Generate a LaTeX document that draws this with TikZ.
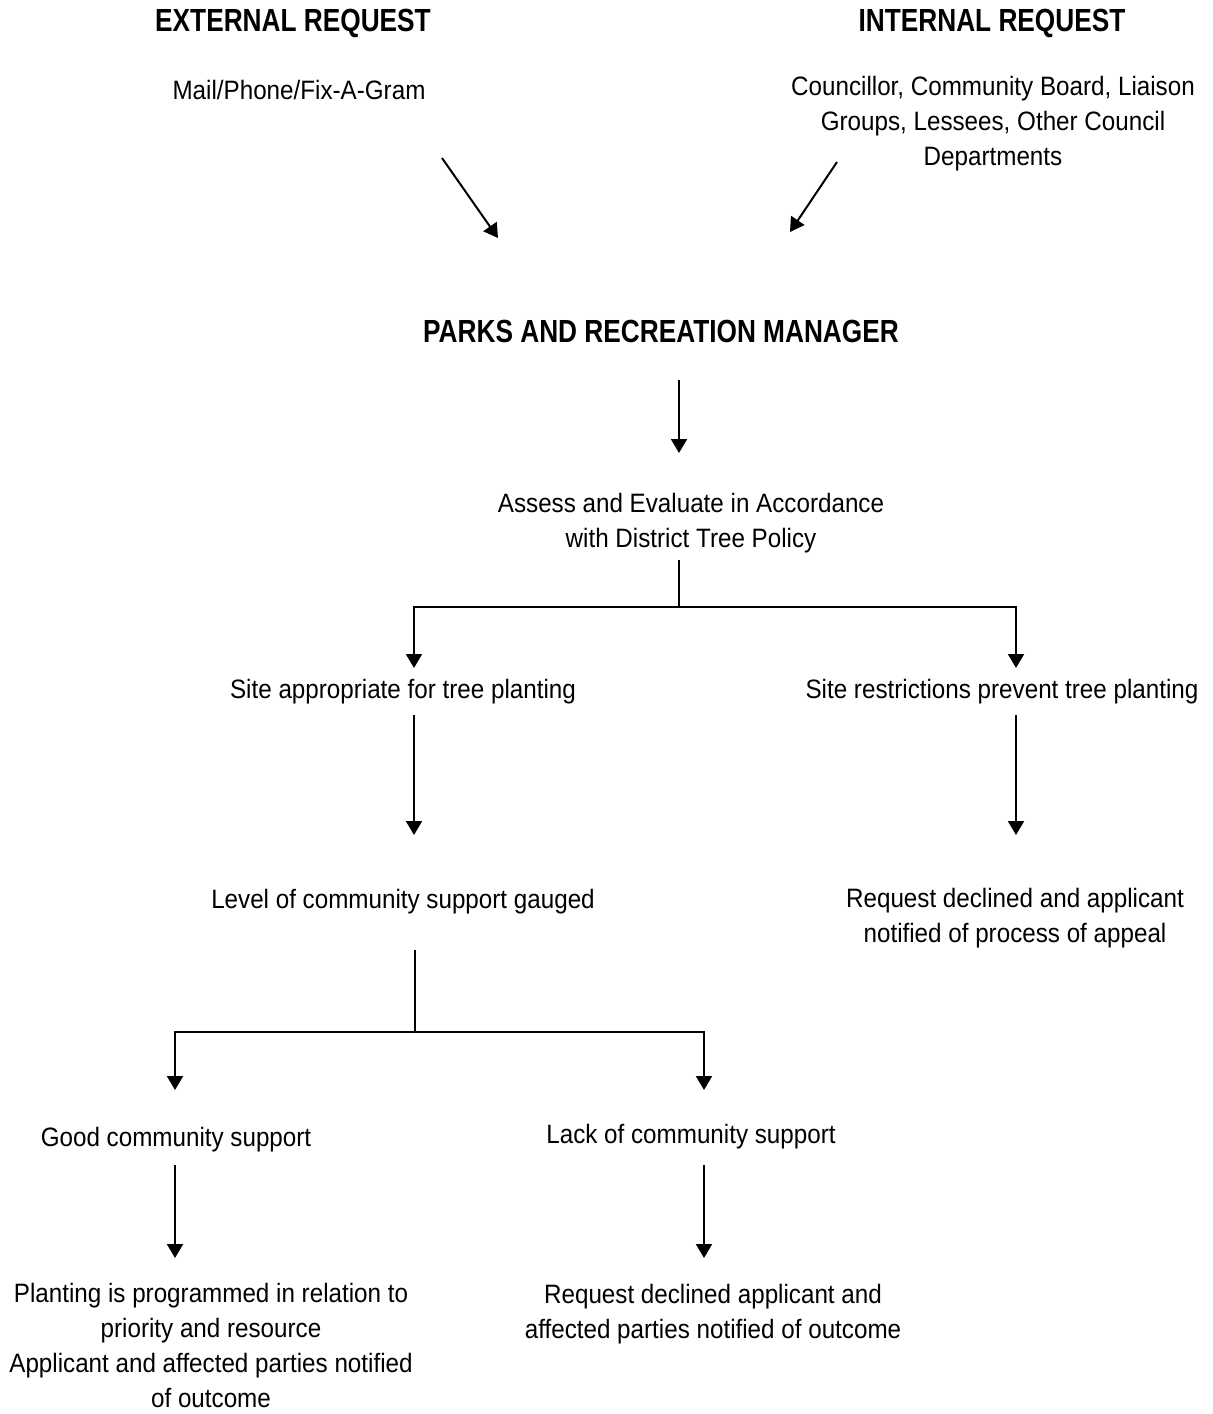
\documentclass[tikz,border=0pt]{standalone}
\usepackage{fontspec}
\setmainfont[FakeStretch=0.91]{Liberation Sans}
\newfontfamily\headfont[FakeStretch=0.82]{Liberation Sans Bold}
\usepackage{tikz}
\usetikzlibrary{arrows.meta, positioning, calc}

\begin{document}
\begin{tikzpicture}[
    x=0.5pt, y=-0.5pt,
    >={Triangle[length=7pt, width=8pt]},
    line width=1pt,
    txt/.style={align=center, inner sep=0pt, font=\fontsize{13.3}{17.5}\selectfont},
    head/.style={txt, font=\fontsize{16}{19}\headfont},
]
    \useasboundingbox (0,0) rectangle (1212,1414);

    % Requests
    \node[head] (ext) at (293,23) {EXTERNAL REQUEST};
    \node[head] (int) at (992,23) {INTERNAL REQUEST};
    \node[txt] (mail) at (299,90) {Mail/Phone/Fix-A-Gram};
    \node[txt] (council) at (993,124) {Councillor, Community Board, Liaison\\Groups, Lessees, Other Council\\Departments};

    \coordinate (e1) at (442,158);
    \coordinate (e2) at (498,238);
    \coordinate (i1) at (837,162);
    \coordinate (i2) at (790,232);
    \draw[->] (e1) -- (e2);
    \draw[->] (i1) -- (i2);

    % Manager
    \node[head] (mgr) at (661,331) {PARKS AND RECREATION MANAGER};
    \node[txt] (assess) at (691,523) {Assess and Evaluate in Accordance\\with District Tree Policy};
    \draw[->] (679,380) -- (679,453);

    % First split
    \coordinate (split1) at (679,607);
    \node[txt] (siteok) at (403,692) {Site appropriate for tree planting};
    \node[txt] (siteno) at (1002,692) {Site restrictions prevent tree planting};
    \draw (679,560) -- (split1);
    \draw[->] (split1) -| (414,668);
    \draw[->] (split1) -| (1016,668);

    \node[txt] (gauge) at (403,902) {Level of community support gauged};
    \node[txt] (decline) at (1015,918) {Request declined and applicant\\notified of process of appeal};
    \draw[->] (414,715) -- (414,835);
    \draw[->] (1016,715) -- (1016,835);

    % Second split
    \coordinate (split2) at (415,1032);
    \node[txt] (good) at (176,1140) {Good community support};
    \node[txt] (lack) at (691,1137) {Lack of community support};
    \draw (415,950) -- (split2);
    \draw[->] (split2) -| (175,1090);
    \draw[->] (split2) -| (704,1090);

    \node[txt] (plant) at (211,1345) {Planting is programmed in relation to\\priority and resource\\Applicant and affected parties notified\\of outcome};
    \node[txt] (notify) at (713,1314) {Request declined applicant and\\affected parties notified of outcome};
    \draw[->] (175,1165) -- (175,1258);
    \draw[->] (704,1165) -- (704,1258);
\end{tikzpicture}
\end{document}
